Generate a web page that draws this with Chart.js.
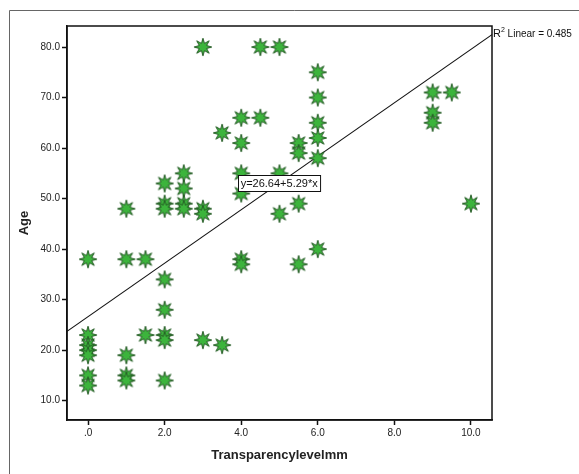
<!DOCTYPE html>
<html><head><meta charset="utf-8">
<script src="https://cdn.jsdelivr.net/npm/chart.js@4.4.0/dist/chart.umd.min.js"></script>
<style>html,body{margin:0;padding:0;background:#fff}canvas{display:block}</style>
</head><body><canvas id="c" width="579" height="474"></canvas>
<script>
// ---- data ----
const transparency = [0,0,0,0,0,0,0, 1,1,1,1,1, 1.5,1.5, 2,2,2,2,2,2,2,2, 2.5,2.5,2.5,2.5, 3,3,3,3, 3.5,3.5, 4,4,4,4,4,4, 4.5,4.5, 5,5,5, 5.5,5.5,5.5,5.5, 6,6,6,6,6,6, 9,9,9, 9.5, 10];
const age =          [38,23,21,20,19,15,13, 48,38,19,15,14, 38,23, 53,49,48,34,28,23,22,14, 55,52,49,48, 80,48,47,22, 63,21, 66,61,55,51,38,37, 80,66, 80,55,47, 61,59,49,37, 75,70,65,62,58,40, 71,67,65, 71, 49];
const xTickValues = [0,2,4,6,8,10];
const xTickLabels = ['.0','2.0','4.0','6.0','8.0','10.0'];
const yTickValues = [10,20,30,40,50,60,70,80];
const yTickLabels = ['10.0','20.0','30.0','40.0','50.0','60.0','70.0','80.0'];
const fitIntercept = 26.64;
const fitSlope = 5.29;
const fitR2 = 0.485;
const xTitle = 'Transparencylevelmm';
const yTitle = 'Age';

const xMin = -0.55, xMax = 10.55, yMin = 6.18, yMax = 84.16;

// star marker
function makeStar(){
  const s = 20, c = document.createElement('canvas');
  c.width = s; c.height = s;
  const g = c.getContext('2d');
  const cx = s/2, cy = s/2, ro = 8.8, ri = 3.9, n = 8;
  g.beginPath();
  for (let i = 0; i < n*2; i++){
    const r = i%2===0 ? ro : ri;
    const a = -Math.PI/2 + i*Math.PI/n;
    const px = cx + r*Math.cos(a), py = cy + r*Math.sin(a);
    i===0 ? g.moveTo(px,py) : g.lineTo(px,py);
  }
  g.closePath();
  g.fillStyle = '#3cb43c';
  g.fill();
  g.lineWidth = 1;
  g.strokeStyle = '#245a24';
  g.stroke();
  return c;
}
const star = makeStar();

const points = transparency.map((x,i)=>({x:x, y:age[i]}));
const fitLine = [xMin, xMax].map(x=>({x:x, y:fitIntercept + fitSlope*x}));

const framePlugin = {
  id:'frame',
  beforeDraw(chart){
    const ctx = chart.ctx;
    ctx.save();
    ctx.strokeStyle = '#666';
    ctx.lineWidth = 1;
    ctx.beginPath();
    ctx.moveTo(9.5, 474); ctx.lineTo(9.5, 10.5); ctx.lineTo(579, 10.5);
    ctx.stroke();
    ctx.restore();
  },
  afterDatasetsDraw(chart){
    const ctx = chart.ctx, a = chart.chartArea;
    const xs = chart.scales.x, ys = chart.scales.y;
    ctx.save();
    ctx.strokeStyle = '#111';
    ctx.lineWidth = 1.5;
    ctx.strokeRect(a.left, a.top, a.right - a.left, a.bottom - a.top);
    // equation label
    const eq = 'y=' + fitIntercept.toFixed(2) + '+' + fitSlope.toFixed(2) + '*x';
    ctx.font = '11px "Liberation Sans", Arial, sans-serif';
    const bx = xs.getPixelForValue(3.92), by = ys.getPixelForValue(53.05);
    const w = ctx.measureText(eq).width + 5, h = 16;
    ctx.fillStyle = '#fff';
    ctx.fillRect(bx, by - h/2, w, h);
    ctx.lineWidth = 1;
    ctx.strokeStyle = '#111';
    ctx.strokeRect(Math.round(bx)+0.5, Math.round(by - h/2)+0.5, w, h);
    ctx.fillStyle = '#111';
    ctx.textBaseline = 'middle';
    ctx.fillText(eq, bx + 2.5, by + 1);
    // R2 label
    const rx = a.right + 1, ry = ys.getPixelForValue(fitIntercept + fitSlope*xMax) + 2;
    ctx.font = '11px "Liberation Sans", Arial, sans-serif';
    ctx.textBaseline = 'alphabetic';
    ctx.fillText('R', rx, ry);
    let off = ctx.measureText('R').width;
    ctx.font = '7px "Liberation Sans", Arial, sans-serif';
    ctx.fillText('2', rx + off, ry - 5);
    off += ctx.measureText('2').width;
    ctx.font = '10px "Liberation Sans", Arial, sans-serif';
    ctx.fillText(' Linear = ' + fitR2.toFixed(3), rx + off, ry);
    ctx.restore();
  }
};

new Chart(document.getElementById('c'), {
  type:'scatter',
  data:{
    datasets:[
      {label:'fit', type:'line', data:fitLine, borderColor:'#111', borderWidth:1.1, pointRadius:0, fill:false, order:2},
      {label:'Age', data:points, pointStyle:star, pointRadius:9, order:1}
    ]
  },
  options:{
    responsive:false,
    animation:false,
    events:[],
    layout:{padding:{left:0, top:26, right:87, bottom:0}},
    plugins:{legend:{display:false}, tooltip:{enabled:false}},
    scales:{
      x:{
        type:'linear', min:xMin, max:xMax,
        afterBuildTicks(s){ s.ticks = xTickValues.map(v=>({value:v})); },
        afterFit(s){ s.height = 54; },
        ticks:{
          callback:(v)=>xTickLabels[xTickValues.indexOf(v)],
          font:{family:'"Liberation Sans", Arial, sans-serif', size:10},
          color:'#222', padding:2, maxRotation:0, autoSkip:false
        },
        grid:{drawOnChartArea:false, drawTicks:true, tickLength:5, color:'#111', tickWidth:1.5},
        border:{display:true, color:'#111', width:1.5},
        title:{display:true, text:xTitle, color:'#222',
          font:{family:'"Liberation Sans", Arial, sans-serif', size:13, weight:'bold'},
          padding:{top:0, bottom:11}}
      },
      y:{
        type:'linear', min:yMin, max:yMax,
        afterBuildTicks(s){ s.ticks = yTickValues.map(v=>({value:v})); },
        afterFit(s){ s.width = 67; },
        ticks:{
          callback:(v)=>yTickLabels[yTickValues.indexOf(v)],
          font:{family:'"Liberation Sans", Arial, sans-serif', size:10},
          color:'#222', padding:2, autoSkip:false
        },
        grid:{drawOnChartArea:false, drawTicks:true, tickLength:5, color:'#111', tickWidth:1.5},
        border:{display:true, color:'#111', width:1.5},
        title:{display:true, text:yTitle, color:'#222',
          font:{family:'"Liberation Sans", Arial, sans-serif', size:13, weight:'bold'},
          padding:{top:17, bottom:0}}
      }
    }
  },
  plugins:[framePlugin]
});
</script>
</body></html>
